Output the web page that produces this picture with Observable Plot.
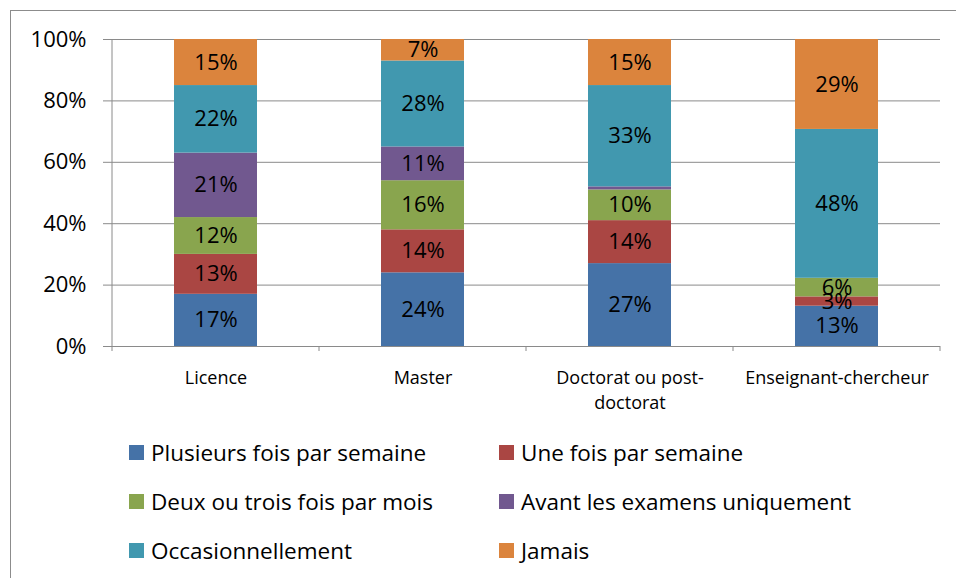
<!DOCTYPE html>
<html>
<head>
<meta charset="utf-8">
<script src="https://cdn.jsdelivr.net/npm/d3@7"></script>
<script src="https://cdn.jsdelivr.net/npm/@observablehq/plot@0.6"></script>
<style>
  html, body { margin: 0; padding: 0; background: #fff; width: 956px; height: 578px; overflow: hidden; }
  #wrap { position: relative; width: 956px; height: 578px; font-family: "Open Sans", sans-serif; }
  #border { position: absolute; left: 10px; top: 10px; width: 980px; height: 620px; border: 1px solid #8c8c8c; box-sizing: border-box; }
  #chart { position: absolute; left: 0; top: 0; }
  #legend { position: absolute; left: 0; top: 420px; width: 956px; height: 158px; }
  .item { position: absolute; display: flex; align-items: center; font-size: 22.5px; color: #000; white-space: nowrap; height: 30px; }
  .sw { width: 15px; height: 15px; margin-right: 7px; flex: none; }
</style>
</head>
<body>
<div id="wrap">
  <div id="border"></div>
  <div id="chart"></div>
  <div id="legend"></div>
</div>
<script>
const categories = ["Licence", "Master", "Doctorat ou post-doctorat", "Enseignant-chercheur"];
const tickLabels = ["Licence", "Master", "Doctorat ou post-\ndoctorat", "Enseignant-chercheur"];
const series = ["Plusieurs fois par semaine", "Une fois par semaine", "Deux ou trois fois par mois", "Avant les examens uniquement", "Occasionnellement", "Jamais"];
const colors = ["#4572A7", "#AA4643", "#89A54E", "#71588F", "#4198AF", "#DB843D"];
const plusieurs = [17, 24, 27, 13];
const uneFois = [13, 14, 14, 3];
const deuxTrois = [12, 16, 10, 6];
const avantExamens = [21, 11, 1, 0];
const occasionnellement = [22, 28, 33, 48];
const jamais = [15, 7, 15, 29];
const yTicks = [0, 0.2, 0.4, 0.6, 0.8, 1];

const seriesValues = [plusieurs, uneFois, deuxTrois, avantExamens, occasionnellement, jamais];
const rows = categories.flatMap((c, i) => series.map((s, j) => ({category: c, series: s, value: seriesValues[j][i]})));

function boundaryTicks(index, scales, values, dimensions) {
  const x = scales.x, y = scales.y;
  const step = x.step(), bw = x.bandwidth();
  const gap = (step - bw) / 2;
  const edges = categories.map(c => x(c) - gap);
  edges.push(x(categories[categories.length - 1]) + bw + gap);
  const g = d3.create("svg:g").attr("stroke", "#8a8a8a").attr("stroke-width", 1);
  const y0 = y(0);
  g.selectAll("line.t").data(edges).join("line")
    .attr("x1", d => d).attr("x2", d => d)
    .attr("y1", y0).attr("y2", y0 + 5);
  g.append("line").attr("x1", edges[0]).attr("x2", edges[0]).attr("y1", y(1)).attr("y2", y0);
  return g.node();
}

const chart = Plot.plot({
  width: 956,
  height: 420,
  marginLeft: 112,
  marginRight: 16,
  marginTop: 39,
  marginBottom: 74,
  style: {fontFamily: "Open Sans", background: "transparent", color: "#000"},
  x: {domain: categories, paddingInner: 0.6, paddingOuter: 0.3, label: null},
  y: {domain: [0, 1], label: null},
  color: {domain: series, range: colors},
  marks: [
    Plot.gridY(yTicks.slice(1), {stroke: "#8a8a8a", strokeOpacity: 1, strokeWidth: 1}),
    Plot.ruleY([0], {stroke: "#8a8a8a", strokeWidth: 1}),
    Plot.barY(rows, {x: "category", y: "value", fill: "series", offset: "normalize"}),
    Plot.text(rows, Plot.stackY({
      x: "category", y: "value", z: "series", offset: "normalize",
      text: d => d.value >= 2 ? d.value + "%" : "",
      fill: "#000", fontSize: 22
    })),
    boundaryTicks,
    Plot.axisY({ticks: yTicks, tickFormat: d => Math.round(d * 100) + "%", tickSize: 9, tickPadding: 17, fontSize: 22, stroke: "#8a8a8a", fill: "#000"}),
    Plot.axisX({tickSize: 0, tickPadding: 19, fontSize: 18, lineHeight: 1.42, fill: "#000",
      tickFormat: d => tickLabels[categories.indexOf(d)]})
  ]
});
document.getElementById("chart").appendChild(chart);

const legend = document.getElementById("legend");
series.forEach((s, i) => {
  const col = i % 2, row = Math.floor(i / 2);
  const item = document.createElement("div");
  item.className = "item";
  item.style.left = (col === 0 ? 129 : 499) + "px";
  item.style.top = (17 + row * 49) + "px";
  const sw = document.createElement("span");
  sw.className = "sw";
  sw.style.background = colors[i];
  const t = document.createElement("span");
  t.textContent = s;
  item.appendChild(sw);
  item.appendChild(t);
  legend.appendChild(item);
});
</script>
</body>
</html>
